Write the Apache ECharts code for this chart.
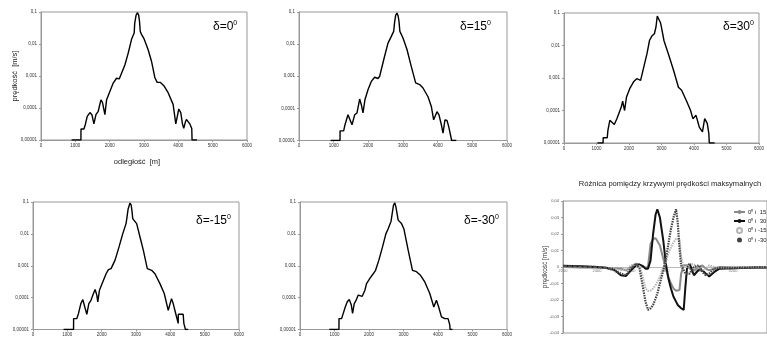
<!DOCTYPE html>
<html><head><meta charset="utf-8">
<script src="https://cdn.jsdelivr.net/npm/echarts@6/dist/echarts.min.js"></script>
<style>html,body{margin:0;padding:0;background:#fff}#c{width:767px;height:338px}</style>
</head><body><div id="c"></div>
<script>
// ---- data: maximum velocity [m/s] vs distance [m] for each angle delta ----
const d0X = [892,1163,1165,1250,1289,1347,1425,1483,1541,1600,1667,1745,1790,1861,1910,2006,2103,2200,2278,2317,2443,2540,2637,2714,2730,2770,2811,2845,2870,2890,2927,2995,3121,3218,3315,3383,3480,3577,3703,3848,3926,4013,4071,4120,4158,4200,4236,4284,4333,4391,4400,4545];
const d0V = [1e-5,1e-5,2.2e-5,2.2e-5,3.0e-5,5.5e-5,7.2e-5,6.2e-5,3.2e-5,6.2e-5,7.9e-5,1.8e-4,1.5e-4,6.2e-5,1.8e-4,3.3e-4,6.0e-4,8.5e-4,8.1e-4,9.0e-4,2.2e-3,5.2e-3,1.4e-2,2.2e-2,4.5e-2,8.0e-2,9.5e-2,8.0e-2,5.0e-2,2.5e-2,2.0e-2,1.5e-2,6.6e-3,2.9e-3,9.0e-4,6.3e-4,6.3e-4,5.0e-4,3.0e-4,1.3e-4,3.2e-5,9.3e-5,7.2e-5,3.2e-5,2.3e-5,3.5e-5,4.4e-5,4.6e-5,3.2e-5,2.3e-5,1e-5,1e-5];

const d15X = [913,1183,1185,1288,1327,1413,1461,1529,1606,1673,1750,1798,1846,1904,1990,2086,2183,2279,2327,2442,2567,2663,2731,2760,2790,2827,2860,2885,2910,2933,3000,3115,3240,3365,3481,3577,3721,3817,3884,3981,4038,4106,4154,4211,4269,4317,4365,4404,4538];
const d15V = [1e-5,1e-5,2.0e-5,2.0e-5,3.1e-5,6.3e-5,6.8e-5,3.1e-5,6.3e-5,7.2e-5,1.95e-4,1.3e-4,7.2e-5,1.9e-4,3.8e-4,6.9e-4,9.3e-4,8.5e-4,1.0e-3,3.2e-3,1.07e-2,1.74e-2,2.5e-2,5.0e-2,8.0e-2,9.3e-2,7.5e-2,5.0e-2,2.5e-2,2.2e-2,1.55e-2,6.8e-3,2.0e-3,6.2e-4,5.5e-4,4.3e-4,2.3e-4,1.15e-4,4.4e-5,7.9e-5,6.3e-5,3.1e-5,1.7e-5,4.4e-5,4.2e-5,2.75e-5,2.75e-5,1e-5,1e-5];

const d30X = [1026,1203,1205,1331,1351,1410,1469,1548,1627,1667,1765,1805,1864,1923,2022,2140,2239,2357,2456,2554,2633,2712,2781,2830,2870,2899,2930,2970,2998,3077,3225,3373,3521,3619,3767,3895,3965,4063,4162,4260,4329,4408,4458,4470,4635];
const d30V = [1e-5,1e-5,1.45e-5,1.45e-5,2.45e-5,5.0e-5,5.6e-5,3.7e-5,5.6e-5,6.0e-5,1.3e-4,1.95e-4,1.0e-4,2.6e-4,4.7e-4,7.6e-4,9.5e-4,8.5e-4,2.2e-3,5.6e-3,1.45e-2,2.0e-2,2.3e-2,3.7e-2,8.0e-2,9.1e-2,7.5e-2,5.0e-2,3.7e-2,1.4e-2,5.0e-3,1.7e-3,5.2e-4,4.2e-4,2.0e-4,1.0e-4,5.6e-5,7.1e-5,3.1e-5,2.2e-5,5.6e-5,4.0e-5,1.9e-5,1e-5,1e-5];

const dM15X = [890,1181,1183,1277,1326,1393,1452,1510,1568,1626,1684,1761,1810,1858,1887,1935,2032,2129,2197,2274,2390,2506,2613,2710,2740,2770,2826,2860,2885,2905,2923,3019,3116,3213,3329,3455,3552,3697,3823,3939,4035,4084,4152,4229,4232,4374,4394,4440,4519];
const dM15V = [1e-5,1e-5,2.2e-5,2.2e-5,3.2e-5,6.5e-5,8.7e-5,5.0e-5,3.0e-5,6.5e-5,8.0e-5,1.35e-4,1.8e-4,1.2e-4,7.4e-5,1.7e-4,3.1e-4,5.6e-4,7.6e-4,8.1e-4,1.5e-3,3.9e-3,1.0e-2,2.1e-2,3.5e-2,6.0e-2,9.3e-2,8.0e-2,5.0e-2,3.0e-2,2.7e-2,2.1e-2,8.0e-3,3.1e-3,8.1e-4,7.2e-4,5.6e-4,2.75e-4,1.35e-4,4.0e-5,9.3e-5,6.5e-5,3.3e-5,1.55e-5,3.0e-5,3.0e-5,1.55e-5,1e-5,1e-5];

const dM30X = [849,1129,1131,1206,1254,1312,1370,1428,1485,1524,1572,1620,1688,1736,1804,1881,1929,2026,2122,2190,2286,2392,2489,2556,2604,2640,2672,2710,2749,2780,2797,2846,2942,3010,3135,3260,3376,3492,3617,3762,3878,3955,4022,4100,4196,4292,4341,4350,4420];
const dM30V = [1e-5,1e-5,2.2e-5,2.2e-5,3.2e-5,5.1e-5,7.4e-5,8.7e-5,6.0e-5,3.2e-5,6.5e-5,8.0e-5,1.2e-4,1.35e-4,1.1e-4,1.7e-4,2.75e-4,4.0e-4,5.6e-4,7.2e-4,1.5e-3,3.9e-3,1.0e-2,1.45e-2,1.5e-2,2.5e-2,4.3e-2,8.0e-2,9.3e-2,7.0e-2,6.2e-2,2.7e-2,2.1e-2,1.45e-2,3.1e-3,7.2e-4,6.5e-4,5.0e-4,3.1e-4,1.35e-4,5.1e-5,8.3e-5,5.0e-5,2.5e-5,2.2e-5,2.2e-5,1.4e-5,1e-5,1e-5];

// differences between max-velocity curves
const diffX = [2200,2300,2400,2450,2500,2540,2570,2600,2630,2650,2670,2685,2700,2715,2730,2745,2755,2770,2790,2805,2820,2835,2850,2865,2875,2885,2895,2910,2920,2930,2945,2970,3000,3020,3040,3060,3090,3120,3200,3300,3400];
const diff15 = [0,-0.0003,-0.0005,-0.0005,-0.0008,-0.001,-0.002,0,0.002,0.0015,0.0005,-0.0005,0,0.014,0.017,0.0175,0.017,0.013,0.005,-0.001,-0.006,-0.010,-0.013,-0.0144,-0.0145,-0.014,-0.004,0.001,0.002,0.001,-0.001,-0.002,0,0.001,-0.001,-0.002,-0.001,0,-0.0003,-0.0002,0];
const diff30 = [0.0008,0.0005,0,-0.0005,-0.0015,-0.005,-0.0055,-0.002,0.001,0.0015,0.0005,-0.001,-0.001,0.004,0.02,0.032,0.035,0.030,0.016,0.002,-0.007,-0.013,-0.018,-0.021,-0.023,-0.024,-0.025,-0.026,-0.012,0,0.002,-0.005,-0.0015,-0.002,-0.004,-0.0057,-0.003,-0.001,-0.0008,-0.0005,-0.0003];
const diffM15 = [0.0003,0,-0.0003,-0.0005,-0.001,-0.002,-0.0015,0.001,0.0015,0.0005,-0.006,-0.013,-0.0145,-0.0143,-0.013,-0.011,-0.009,-0.006,-0.001,0.003,0.008,0.012,0.015,0.017,0.0174,0.017,0.006,0,-0.001,0,0.002,0.0015,-0.001,-0.002,-0.001,0.001,0,-0.0005,-0.0003,-0.0002,0];
const diffM30 = [0.0005,0.0003,0,-0.0005,-0.002,-0.004,-0.005,-0.001,0.002,-0.001,-0.012,-0.021,-0.026,-0.025,-0.023,-0.019,-0.016,-0.010,-0.002,0.005,0.014,0.023,0.030,0.035,0.027,0.012,0.001,-0.002,-0.004,-0.005,-0.004,0,0.001,-0.003,-0.005,-0.004,-0.001,-0.0005,-0.0005,-0.0003,-0.0002];

const logTickLabels = {'-1':'0,1','-2':'0,01','-3':'0,001','-4':'0,0001','-5':'0,00001'};
const panelAngles = ['0','15','30','-15','-30'];
const diffNames = ['0\u2070 i  15','0\u2070 i  30','0\u2070 i -15','0\u2070 i -30'];

// ---- chart ----
const FONT = 'Liberation Sans, Arial, sans-serif';
const grids = [
  {left:41, top:12, width:206, height:128},
  {left:299, top:12, width:208, height:128.5},
  {left:564, top:13, width:203, height:130},
  {left:33, top:202, width:206, height:127.5},
  {left:300, top:202, width:207, height:127.5},
  {left:563, top:201, width:208, height:132}
].map(g => Object.assign({show:true, borderColor:'#999', borderWidth:1, containLabel:false}, g));

const pairs = (X, V) => X.map((x, i) => [x, V[i]]);
const logData = [pairs(d0X,d0V), pairs(d15X,d15V), pairs(d30X,d30V), pairs(dM15X,dM15V), pairs(dM30X,dM30V)];

const xAxes = [], yAxes = [], series = [];
for (let i = 0; i < 5; i++) {
  xAxes.push({gridIndex:i, type:'value', min:0, max:6000, interval:1000,
    axisLine:{lineStyle:{color:'#999'}}, axisTick:{show:true, length:2, lineStyle:{color:'#999'}},
    axisLabel:{fontSize:4.5, color:'#333', margin:3, fontFamily:FONT, formatter: v => String(v)}, splitLine:{show:false}});
  yAxes.push({gridIndex:i, type:'log', logBase:10, min:1e-5, max:0.1,
    axisLine:{show:true, lineStyle:{color:'#999'}}, axisTick:{show:true, length:2, lineStyle:{color:'#999'}},
    axisLabel:{fontSize:4.5, color:'#333', margin:4, fontFamily:FONT,
      formatter: v => logTickLabels[String(Math.round(Math.log10(v)))] || ''},
    splitLine:{show:false}, minorTick:{show:false}});
  series.push({type:'line', xAxisIndex:i, yAxisIndex:i, data:logData[i], symbol:'none',
    lineStyle:{color:'#000', width:1.4}, itemStyle:{color:'#000'}, animation:false, silent:true});
}
xAxes.push({gridIndex:5, type:'value', min:2200, max:3400, interval:200, offset:-66,
  axisLine:{onZero:false, lineStyle:{color:'#bbb'}}, axisTick:{show:false},
  axisLabel:{fontSize:4, color:'#777', margin:2, fontFamily:FONT, showMaxLabel:false, formatter: v => String(v)}, splitLine:{show:false}});
yAxes.push({gridIndex:5, type:'value', min:-0.04, max:0.04, interval:0.01,
  axisLine:{show:true, onZero:false, lineStyle:{color:'#999'}}, axisTick:{show:true, length:2, lineStyle:{color:'#999'}},
  axisLabel:{fontSize:4, color:'#555', margin:4, fontFamily:FONT,
    formatter: v => Math.abs(v) < 1e-9 ? '0' : v.toFixed(2).replace('.', ',')},
  splitLine:{show:false}});
const diffSets = [diff15, diff30, diffM15, diffM30];
const diffStyles = [
  {color:'#8a8a8a', width:2, type:'solid'},
  {color:'#111', width:2, type:'solid'},
  {color:'#b5b5b5', width:2, type:[1.5,1]},
  {color:'#444', width:2.2, type:[1.5,1]}
];
for (let k = 0; k < 4; k++) {
  series.push({name:diffNames[k], type:'line', xAxisIndex:5, yAxisIndex:5, data:pairs(diffX, diffSets[k]),
    symbol:'none', lineStyle:diffStyles[k], itemStyle:{color:diffStyles[k].color}, animation:false, silent:true, z:3});
}

const deltaPos = [[213,20],[460,20],[723,20],[196,214],[464,214]];
const titles = panelAngles.map((a, i) => ({
  text:'{a|\u03b4=' + a + '}{b|0}', left:deltaPos[i][0], top:deltaPos[i][1], padding:0,
  textStyle:{fontWeight:'normal', rich:{a:{fontSize:12, fontWeight:'normal', fontFamily:FONT, color:'#000', lineHeight:14},
                   b:{fontSize:7, fontWeight:'normal', fontFamily:FONT, color:'#000', verticalAlign:'top', lineHeight:8}}}
}));
titles.push({text:'Różnica pomiędzy krzywymi prędkości maksymalnych', left:670, top:180, textAlign:'center', padding:0,
  textStyle:{fontSize:7.6, fontWeight:'normal', fontFamily:FONT, color:'#222'}});

const option = {
  backgroundColor:'#fff',
  animation:false,
  grid:grids, xAxis:xAxes, yAxis:yAxes, series:series, title:titles,
  legend:{orient:'vertical', left:728, top:204, itemWidth:11, itemHeight:5, itemGap:3,
    textStyle:{fontSize:6, fontFamily:FONT, color:'#222', padding:[0,0,0,-2]},
    data:[{name:diffNames[0]},{name:diffNames[1]},{name:diffNames[2], icon:'emptyCircle'},{name:diffNames[3], icon:'circle'}]},
  graphic:[
    {type:'text', x:15, y:76, rotation:Math.PI/2, style:{text:'prędkość  [m/s]', fontSize:7.5, fontFamily:FONT, fill:'#222', align:'center', verticalAlign:'middle', textAlign:'center', textVerticalAlign:'middle'}},
    {type:'text', x:137, y:162, style:{text:'odległość  [m]', fontSize:7.5, fontFamily:FONT, fill:'#222', align:'center', verticalAlign:'middle', textAlign:'center', textVerticalAlign:'middle'}},
    {type:'text', x:545, y:267, rotation:Math.PI/2, style:{text:'prędkość [m/s]', fontSize:6.5, fontFamily:FONT, fill:'#333', align:'center', verticalAlign:'middle', textAlign:'center', textVerticalAlign:'middle'}}
  ]
};
const chart = echarts.init(document.getElementById('c'), null, {renderer:'canvas'});
chart.setOption(option);
</script></body></html>
